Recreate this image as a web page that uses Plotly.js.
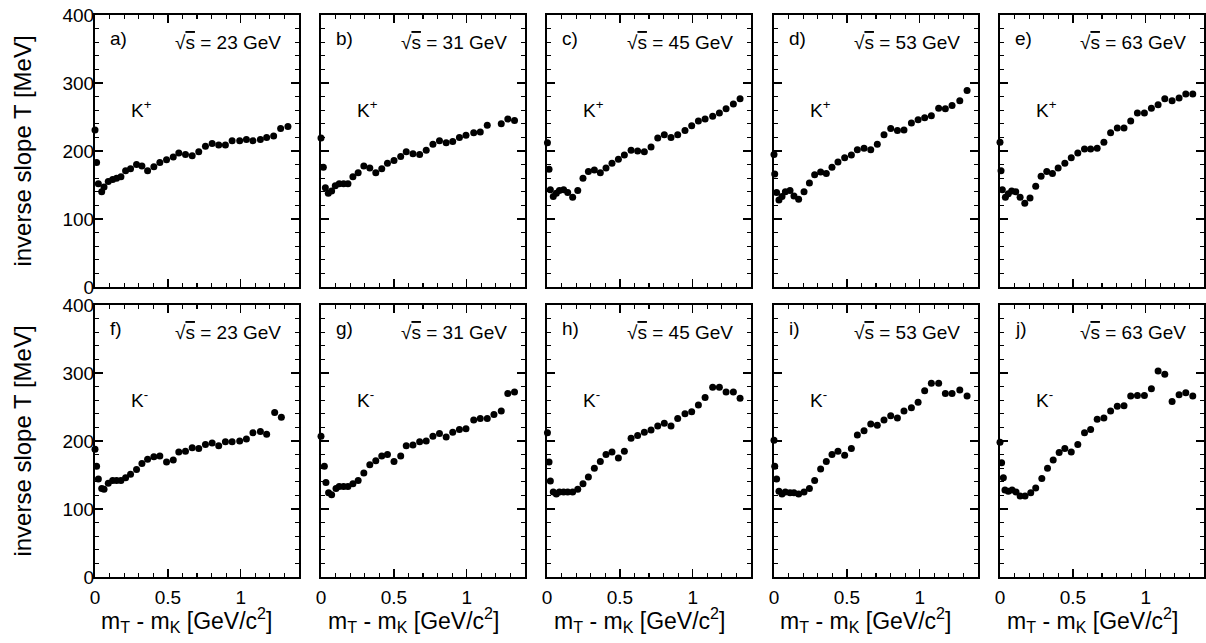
<!DOCTYPE html>
<html>
<head>
<meta charset="utf-8">
<script src="https://cdn.plot.ly/plotly-3.0.1.min.js"></script>
<style>html,body{margin:0;padding:0;background:#fff;}#chart{width:1206px;height:643px;}</style>
</head>
<body>
<div id="chart"></div>
<script>
// ---- data (mT - mK in GeV/c^2, inverse slope T in MeV) ----
const panelLetters = ["a)","b)","c)","d)","e)","f)","g)","h)","i)","j)"];
const energies = ["23","31","45","53","63"];
const particles = ["K<sup>+</sup>","K<sup>-</sup>"];
const xTitle = "m<sub>T</sub> - m<sub>K</sub> [GeV/c<sup>2</sup>]";
const yTitle = "inverse slope T [MeV]";

const x_a = [0,0.011,0.023,0.046,0.062,0.091,0.121,0.148,0.178,0.21,0.244,0.285,0.322,0.361,0.404,0.445,0.491,0.537,0.575,0.621,0.667,0.712,0.758,0.804,0.849,0.895,0.941,0.993,1.039,1.084,1.135,1.178,1.226,1.274,1.324];
const T_a = [231,183,152,140,147,155,158,160,162,171,174,180,178,171,177,183,187,191,197,195,193,199,207,211,209,209,215,215,217,215,217,220,222,233,236];

const x_b = [0,0.016,0.030,0.050,0.073,0.098,0.125,0.155,0.185,0.219,0.255,0.294,0.335,0.376,0.417,0.456,0.501,0.547,0.585,0.631,0.677,0.722,0.768,0.813,0.859,0.904,0.950,0.995,1.048,1.093,1.141,1.237,1.282,1.328];
const T_b = [219,176,146,138,141,149,152,152,152,162,168,178,175,168,174,182,186,192,199,196,195,201,210,215,212,214,220,223,227,228,238,240,247,245];

const x_c = [0.003,0.014,0.023,0.043,0.064,0.085,0.114,0.142,0.176,0.211,0.247,0.284,0.325,0.366,0.405,0.446,0.490,0.531,0.577,0.622,0.668,0.714,0.760,0.805,0.851,0.897,0.947,0.993,1.039,1.085,1.137,1.183,1.229,1.279,1.325];
const T_c = [212,173,143,133,138,142,143,139,132,142,160,170,172,168,175,182,188,194,201,200,199,206,219,224,220,224,230,237,244,247,251,256,262,269,277];

const x_d = [0,0.005,0.018,0.034,0.055,0.078,0.110,0.137,0.169,0.206,0.243,0.279,0.320,0.359,0.398,0.439,0.485,0.531,0.572,0.618,0.664,0.709,0.755,0.801,0.847,0.892,0.943,0.989,1.034,1.080,1.130,1.176,1.222,1.275,1.325];
const T_d = [195,166,139,128,133,140,142,134,129,140,153,165,169,167,176,184,190,194,202,204,202,210,224,233,230,231,241,246,249,252,263,262,267,274,289];

const x_e = [0,0.007,0.016,0.037,0.057,0.080,0.108,0.138,0.170,0.206,0.245,0.282,0.321,0.360,0.399,0.445,0.489,0.534,0.580,0.622,0.667,0.713,0.759,0.805,0.851,0.897,0.943,0.991,1.039,1.085,1.131,1.181,1.229,1.275,1.323];
const T_e = [213,171,143,132,137,141,140,132,123,131,148,163,170,167,175,182,190,197,203,203,204,213,227,234,234,244,256,256,263,268,277,274,278,284,284];

const x_f = [0,0.011,0.023,0.046,0.062,0.091,0.121,0.148,0.178,0.21,0.244,0.285,0.322,0.361,0.404,0.445,0.491,0.537,0.575,0.621,0.667,0.712,0.758,0.804,0.849,0.895,0.941,0.993,1.039,1.084,1.135,1.178,1.233,1.279];
const T_f = [188,163,144,130,129,138,142,142,142,146,151,158,167,173,177,178,169,172,184,185,190,189,195,197,193,199,199,200,203,212,214,210,242,235];

const x_g = [0,0.023,0.034,0.052,0.073,0.103,0.125,0.155,0.185,0.219,0.255,0.294,0.335,0.376,0.417,0.456,0.501,0.547,0.585,0.631,0.677,0.722,0.768,0.813,0.859,0.904,0.950,0.995,1.048,1.093,1.141,1.187,1.237,1.282,1.328];
const T_g = [207,163,139,124,121,130,133,133,133,137,142,153,165,171,178,180,170,178,193,194,199,200,207,211,206,213,217,218,231,233,233,239,244,270,272];

const x_h = [0.003,0.014,0.023,0.043,0.064,0.085,0.114,0.142,0.176,0.211,0.247,0.284,0.325,0.366,0.405,0.446,0.490,0.531,0.577,0.622,0.668,0.714,0.760,0.805,0.851,0.897,0.947,0.993,1.039,1.085,1.137,1.183,1.229,1.279,1.325];
const T_h = [212,169,141,125,122,125,125,125,125,129,137,147,160,170,180,184,175,185,204,208,213,216,222,226,222,233,240,243,253,264,279,279,272,272,263];

const x_i = [0,0.005,0.018,0.034,0.055,0.078,0.110,0.137,0.169,0.206,0.243,0.279,0.320,0.359,0.398,0.439,0.485,0.531,0.572,0.618,0.664,0.709,0.755,0.801,0.847,0.892,0.943,0.989,1.034,1.080,1.130,1.176,1.222,1.275,1.325];
const T_i = [201,163,144,126,122,125,124,124,122,125,130,142,159,170,180,185,179,189,209,215,225,223,231,237,234,244,249,257,274,285,285,270,270,275,266];

const x_j = [0,0.011,0.023,0.034,0.057,0.083,0.110,0.138,0.172,0.211,0.245,0.287,0.326,0.365,0.406,0.445,0.489,0.534,0.580,0.622,0.667,0.713,0.759,0.805,0.851,0.897,0.943,0.991,1.039,1.085,1.131,1.181,1.229,1.275,1.323];
const T_j = [198,168,146,128,126,128,125,119,119,124,131,145,160,172,183,189,184,195,212,217,232,234,244,251,252,266,267,267,277,303,298,258,268,271,266];

const xTickVals = [0,0.5,1];
const xTickText = ["0","0.5","1"];
const yTickVals = [0,100,200,300,400];
const yTickText = ["0","100","200","300","400"];

// ---- layout geometry (pixels) ----
const W = 1206, H = 643;
const colLeft = [95, 321, 547, 774, 1000];
const colWidth = 204;
const rowTop = [15, 305];
const rowHeight = 272;

const allX = [x_a,x_b,x_c,x_d,x_e,x_f,x_g,x_h,x_i,x_j];
const allT = [T_a,T_b,T_c,T_d,T_e,T_f,T_g,T_h,T_i,T_j];

const FONT = "Liberation Sans, Arial, Helvetica, sans-serif";
const traces = [];
const layout = {
  width: W, height: H,
  margin: {l:0, r:0, t:0, b:0},
  paper_bgcolor: "#fff", plot_bgcolor: "#fff",
  showlegend: false,
  font: {family: FONT, size: 19, color: "#000"},
  annotations: []
};

for (let k = 0; k < 10; k++) {
  const row = k < 5 ? 0 : 1;
  const col = k % 5;
  const n = k + 1;
  const xa = "x" + (n === 1 ? "" : n);
  const ya = "y" + (n === 1 ? "" : n);
  traces.push({
    type: "scatter", mode: "markers",
    x: allX[k], y: allT[k],
    xaxis: xa, yaxis: ya,
    marker: {color: "#000", size: 7},
    cliponaxis: false,
    hoverinfo: "skip"
  });
  const x0 = colLeft[col] / W, x1 = (colLeft[col] + colWidth) / W;
  const y1 = (H - rowTop[row]) / H, y0 = (H - rowTop[row] - rowHeight) / H;
  const xkey = "xaxis" + (n === 1 ? "" : n);
  const ykey = "yaxis" + (n === 1 ? "" : n);
  const common = {
    showgrid: false, zeroline: false,
    showline: true, linecolor: "#000", linewidth: 2, mirror: "ticks",
    ticks: "inside", ticklen: 8, tickwidth: 1.5, tickcolor: "#000",
    tickfont: {family: FONT, size: 19, color: "#000"},
    fixedrange: true
  };
  layout[xkey] = Object.assign({}, common, {
    domain: [x0, x1], anchor: ya, range: [0, 1.4],
    tickmode: "array", tickvals: xTickVals, ticktext: xTickText,
    showticklabels: row === 1,
    ticklabelstandoff: 2,
    minor: {dtick: 0.1, ticklen: 4, tickwidth: 1.2, tickcolor: "#000", ticks: "inside"},
    title: {text: ""}
  });
  layout[ykey] = Object.assign({}, common, {
    domain: [y0, y1], anchor: xa, range: [0, 400],
    tickmode: "array", tickvals: yTickVals, ticktext: yTickText,
    showticklabels: col === 0,
    ticklabelstandoff: -5,
    minor: {dtick: 20, ticklen: 4, tickwidth: 1.2, tickcolor: "#000", ticks: "inside"},
    title: col === 0 ? {text: yTitle, font: {family: FONT, size: 24, color: "#000"}, standoff: 24} : {text: ""}
  });
  if (row === 1) {
    layout.annotations.push({
      xref: "paper", yref: "paper",
      x: (colLeft[col] + 92) / W, y: (H - 620) / H,
      text: xTitle, showarrow: false, xanchor: "center", yanchor: "middle",
      font: {family: FONT, size: 23, color: "#000"}
    });
  }
  layout.annotations.push({
    xref: xa, yref: ya, x: 0.09, y: 366, text: panelLetters[k],
    showarrow: false, xanchor: "left", yanchor: "middle",
    font: {family: FONT, size: 19, color: "#000"}
  });
  layout.annotations.push({
    xref: xa, yref: ya, x: 1.29, y: 360,
    text: "√<span style='text-decoration:overline'>s</span> = " + energies[col] + " GeV",
    showarrow: false, xanchor: "right", yanchor: "middle",
    font: {family: FONT, size: 19, color: "#000"}
  });
  layout.annotations.push({
    xref: xa, yref: ya, x: 0.23, y: 262, text: particles[row],
    showarrow: false, xanchor: "left", yanchor: "middle",
    font: {family: FONT, size: 19, color: "#000"}
  });
}

Plotly.newPlot("chart", traces, layout, {staticPlot: true, displayModeBar: false});
</script>
</body>
</html>
